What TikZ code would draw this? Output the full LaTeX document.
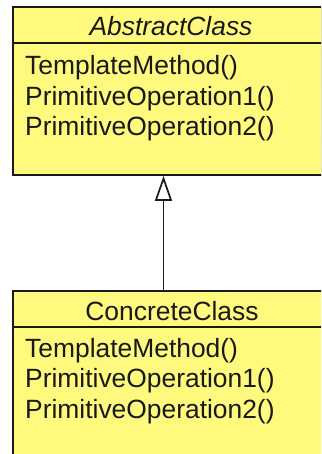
\documentclass[tikz,border=0pt]{standalone}
\usepackage{fontspec}
\setmainfont{Liberation Sans}
\usetikzlibrary{arrows.meta}
\definecolor{classfill}{RGB}{255,250,125}
\definecolor{ink}{RGB}{25,25,25}
\definecolor{shade}{RGB}{215,215,215}
\tikzset{
  classbox/.style={draw=ink, line width=1.9pt, fill=classfill, rectangle, inner sep=0pt, anchor=north west, minimum width=330pt},
  divider/.style={draw=ink, line width=1.7pt},
  headtext/.style={anchor=base, inner sep=0pt, text=ink, font=\fontsize{26.4}{30}\selectfont},
  optext/.style={anchor=base west, inner sep=0pt, text=ink, font=\fontsize{26.4}{30}\selectfont},
  inherit/.style={draw=ink, line width=1.7pt, -{Triangle[open, length=25pt, width=17pt, line width=1.7pt]}}
}
\begin{document}
\begin{tikzpicture}[x=1pt,y=-1pt]
\useasboundingbox (0,0) rectangle (321,454);
\clip (0,0) rectangle (321,454);
\fill[shade] (14,8) rectangle (345,176.5);
\node[classbox, minimum height=168pt] (abs) at (12,6) {};
\node[classbox, minimum height=200pt] (conc) at (12,290) {};
\draw[divider] (12,43.3) -- (342,43.3);
\draw[divider] (12,326.7) -- (342,326.7);
\node[headtext, font=\fontsize{26.4}{30}\selectfont\itshape] (absname) at (171,36) {AbstractClass};
\node[optext] (a1) at (25,75) {TemplateMethod()};
\node[optext] (a2) at (25,105.5) {PrimitiveOperation1()};
\node[optext] (a3) at (25,136) {PrimitiveOperation2()};
\node[headtext] (concname) at (172,320) {ConcreteClass};
\node[optext] (c1) at (25,357) {TemplateMethod()};
\node[optext] (c2) at (25,387.5) {PrimitiveOperation1()};
\node[optext] (c3) at (25,418) {PrimitiveOperation2()};
\coordinate (lx) at (163.5,0);
\draw[inherit] (conc.north west -| lx) -- (abs.south west -| lx);
\end{tikzpicture}
\end{document}
